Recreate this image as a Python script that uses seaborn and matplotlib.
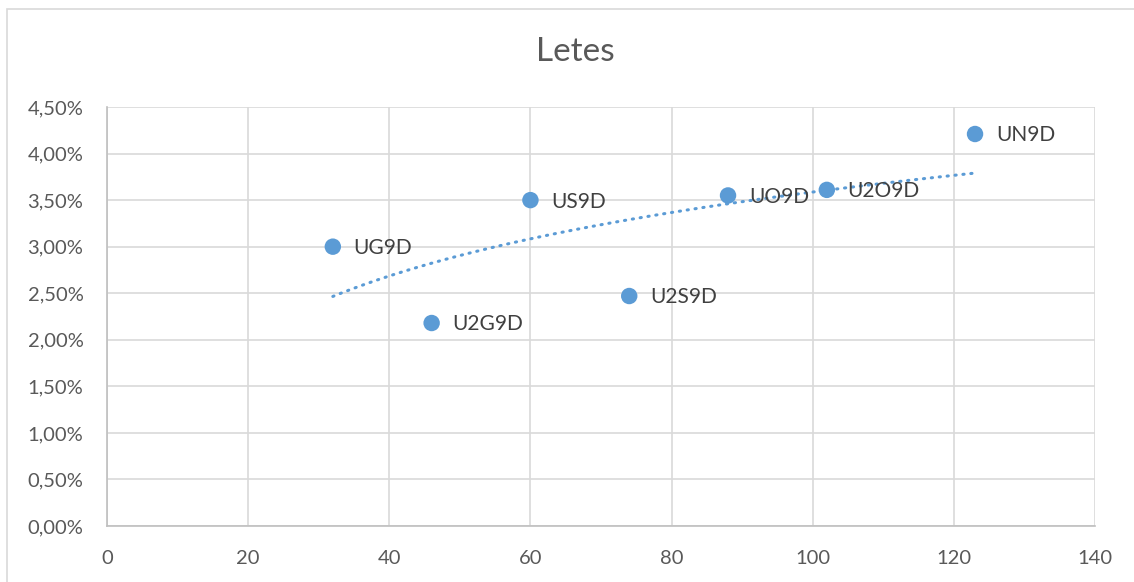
import numpy as np
import pandas as pd
import seaborn as sns
import matplotlib.pyplot as plt
from matplotlib.patches import Rectangle
from matplotlib.ticker import FuncFormatter, MultipleLocator

# Dados
nomes = ["UG9D", "U2G9D", "US9D", "U2S9D", "UO9D", "U2O9D", "UN9D"]
valores_x = [32, 46, 60, 74, 88, 102, 123]
letes_pct = [3.00, 2.18, 3.50, 2.47, 3.55, 3.61, 4.21]

df = pd.DataFrame({"nome": nomes, "x": valores_x, "y": letes_pct})

AZUL = "#5B9BD5"
CINZA_GRADE = "#D9D9D9"

sns.set_style("whitegrid")
plt.rcParams['font.family'] = ['Lato', 'DejaVu Sans']

fig = plt.figure(figsize=(11.34, 5.82), dpi=100)
ax = fig.add_axes([107 / 1134, 1 - 526 / 582, (1095 - 107) / 1134, (526 - 107) / 582])

# linha de tendência logarítmica (y ~ log x)
sns.regplot(data=df, x="x", y="y", logx=True, ci=None, scatter=False, ax=ax,
            line_kws={"color": AZUL, "lw": 2.2, "ls": (0, (0.4, 2.2)),
                      "dash_capstyle": "round", "solid_capstyle": "round"})

sns.scatterplot(data=df, x="x", y="y", ax=ax, color=AZUL, s=140,
                edgecolor="none", zorder=3)

for nome, x, y in zip(nomes, valores_x, letes_pct):
    ax.annotate(nome, (x, y), xytext=(15, -1), textcoords="offset points",
                va="center", ha="left", fontsize=15, color="#404040")

ax.set_xlim(0, 140)
ax.set_ylim(0, 4.5)
ax.xaxis.set_major_locator(MultipleLocator(20))
ax.yaxis.set_major_locator(MultipleLocator(0.5))
ax.yaxis.set_major_formatter(FuncFormatter(lambda v, p: f"{v:.2f}%".replace(".", ",")))

ax.grid(True, color=CINZA_GRADE, lw=1.2)
for lado in ["top", "right"]:
    ax.spines[lado].set_visible(False)
for lado in ["left", "bottom"]:
    ax.spines[lado].set_color("#BFBFBF")
    ax.spines[lado].set_linewidth(1.2)
ax.tick_params(axis="both", length=0, labelsize=14.5, labelcolor="#595959")
ax.tick_params(axis="x", pad=17)
ax.tick_params(axis="y", pad=17)
ax.set_xlabel("")
ax.set_ylabel("")

fig.text(575 / 1134, 1 - 52 / 582, "Letes", ha="center", va="center", fontsize=24, color="#595959")

# borda do gráfico (continua além da imagem à direita e embaixo)
fig.patches.append(Rectangle((7 / 1134, -0.02), 1.1, 1 - 9 / 582 + 0.02,
                             transform=fig.transFigure, fill=False,
                             edgecolor="#D9D9D9", lw=1.2))

fig.savefig("out.png", dpi=100)
